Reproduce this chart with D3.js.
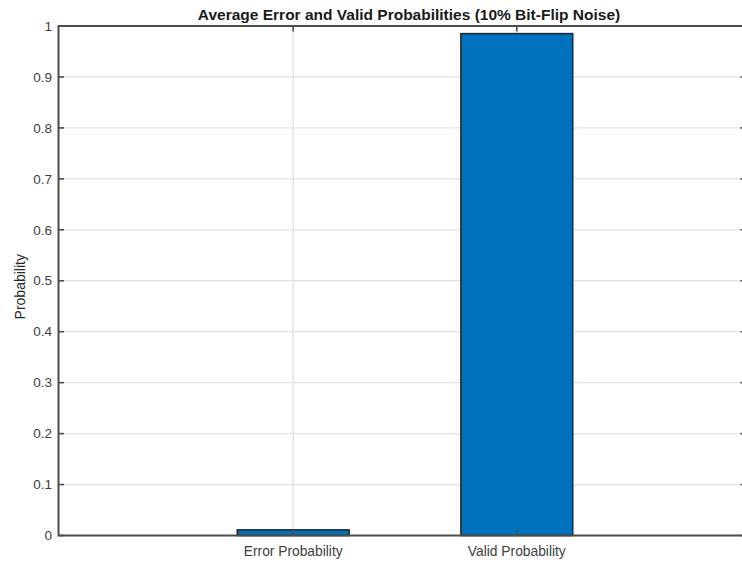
<!DOCTYPE html>
<html><head><meta charset="utf-8">
<script src="https://cdn.jsdelivr.net/npm/d3@7"></script>
<style>body{margin:0;background:#fff;} svg{display:block;}</style>
</head><body>
<svg id="c" width="742" height="563"></svg>
<script>
const categories = ["Error Probability", "Valid Probability"];
const values = [0.011, 0.985];
const yTicks = [0, 0.1, 0.2, 0.3, 0.4, 0.5, 0.6, 0.7, 0.8, 0.9, 1];
const titleText = "Average Error and Valid Probabilities (10% Bit-Flip Noise)";
const yLabel = "Probability";

const svg = d3.select("#c");
const L = 58.5, R = 746, T = 26, B = 535.5;
// category index positions (1,2)
const x = d3.scaleLinear().domain([1, 2]).range([293.2, 516.8]);
const y = d3.scaleLinear().domain([0, 1]).range([B, T]);
const bw = (x(2) - x(1)) * 0.5;
const font = "'Liberation Sans', Arial, sans-serif";
const axisCol = "#4d4d4d";

// grid
svg.append("g").selectAll("line").data(yTicks.slice(1, -1)).join("line")
  .attr("x1", L).attr("x2", R).attr("y1", d => y(d)).attr("y2", d => y(d))
  .attr("stroke", "#e3e3e3").attr("stroke-width", 1.3);
svg.append("g").selectAll("line").data(categories).join("line")
  .attr("x1", (d, i) => x(i + 1)).attr("x2", (d, i) => x(i + 1)).attr("y1", T).attr("y2", B)
  .attr("stroke", "#e3e3e3").attr("stroke-width", 1.3);

// bars
svg.append("g").selectAll("rect").data(values).join("rect")
  .attr("x", (d, i) => x(i + 1) - bw / 2).attr("width", bw)
  .attr("y", d => y(d)).attr("height", d => B - y(d))
  .attr("fill", "#0072BD").attr("stroke", "#1f2a33").attr("stroke-width", 1.6);

// box
svg.append("rect").attr("x", L).attr("y", T).attr("width", R - L).attr("height", B - T)
  .attr("fill", "none").attr("stroke", axisCol).attr("stroke-width", 2);

// ticks
const tk = 5.5;
const tg = svg.append("g").attr("stroke", axisCol).attr("stroke-width", 1.6);
yTicks.forEach(d => {
  tg.append("line").attr("x1", L).attr("x2", L + tk).attr("y1", y(d)).attr("y2", y(d));
  tg.append("line").attr("x1", R).attr("x2", R - tk).attr("y1", y(d)).attr("y2", y(d));
});
categories.forEach((c, i) => {
  tg.append("line").attr("x1", x(i + 1)).attr("x2", x(i + 1)).attr("y1", B).attr("y2", B - tk);
  tg.append("line").attr("x1", x(i + 1)).attr("x2", x(i + 1)).attr("y1", T).attr("y2", T + tk);
});

// y tick labels
svg.append("g").selectAll("text").data(yTicks).join("text")
  .attr("x", L - 6.5).attr("y", d => y(d)).attr("dy", "0.35em")
  .attr("text-anchor", "end").attr("font-family", font).attr("font-size", 13.5)
  .attr("fill", "#404040").text(d => d3.format("")(d));

// x tick labels
svg.append("g").selectAll("text").data(categories).join("text")
  .attr("x", (d, i) => x(i + 1)).attr("y", 556)
  .attr("text-anchor", "middle").attr("font-family", font).attr("font-size", 13.8)
  .attr("fill", "#404040").text(d => d);

// y label
svg.append("text").attr("transform", `translate(25,${(T + B) / 2 + 6}) rotate(-90)`)
  .attr("text-anchor", "middle").attr("font-family", font).attr("font-size", 14)
  .attr("fill", "#262626").text(yLabel);

// title
svg.append("text").attr("x", 409).attr("y", 20)
  .attr("text-anchor", "middle").attr("font-family", font).attr("font-size", 15.5)
  .attr("font-weight", "bold").attr("fill", "#1a1a1a").text(titleText);
</script>
</body></html>
